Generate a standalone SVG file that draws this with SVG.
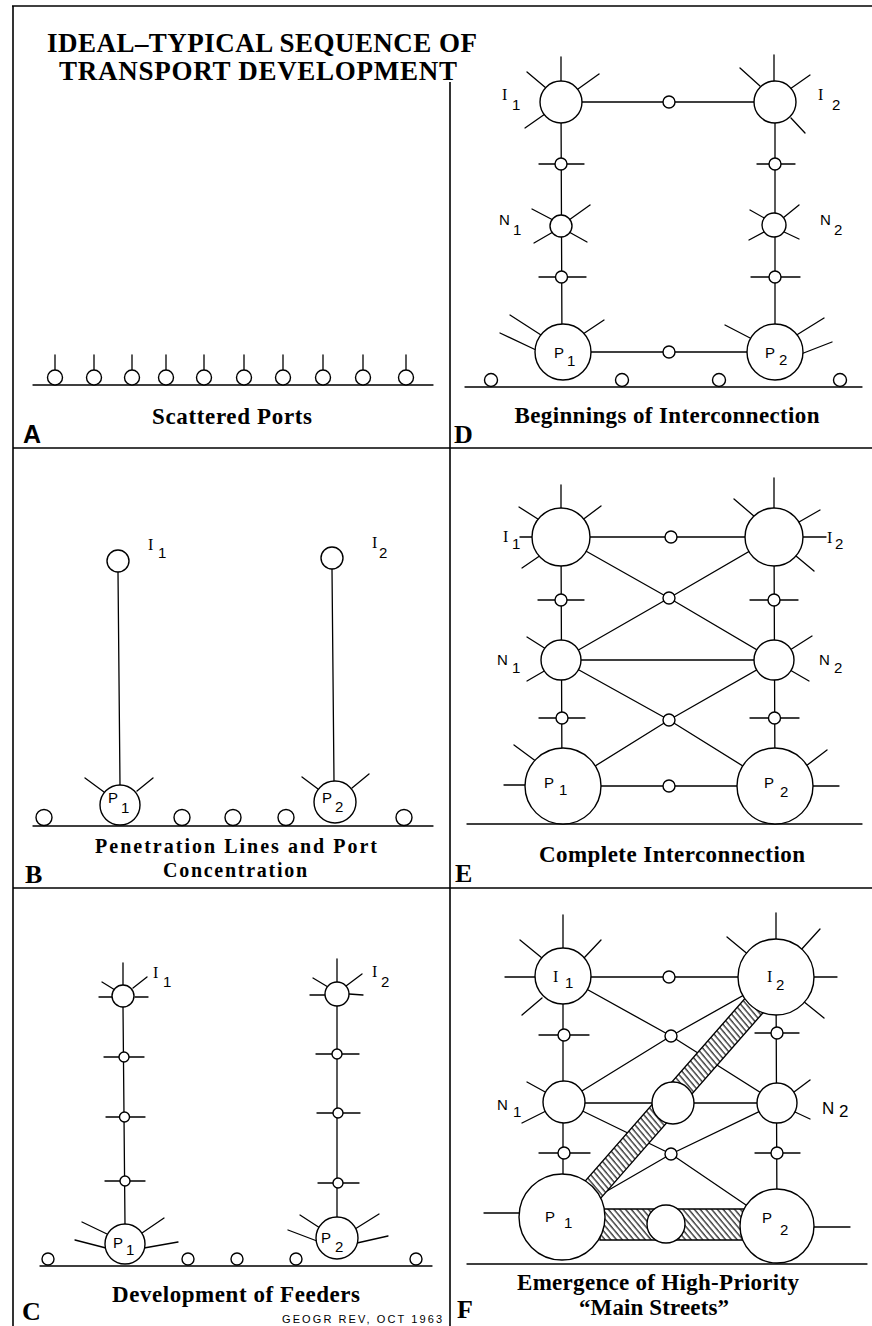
<svg xmlns="http://www.w3.org/2000/svg" width="872" height="1326" viewBox="0 0 872 1326">
<style>
.fr{stroke:#000;stroke-width:1.6;fill:none}
.ln{stroke:#000;stroke-width:1.3;fill:none;stroke-linecap:round}
.nd{fill:#fff;stroke:#000;stroke-width:1.4}
.cap{font-family:"Liberation Serif",serif;font-weight:bold;font-size:23px;text-anchor:middle;fill:#000}
.cap2{font-family:"Liberation Serif",serif;font-weight:bold;font-size:20px;text-anchor:middle;fill:#000}
.ttl{font-family:"Liberation Serif",serif;font-weight:bold;font-size:27px;fill:#000}
.pl{font-family:"Liberation Serif",serif;font-weight:bold;font-size:26px;fill:#000}
.pa{font-family:"Liberation Sans",sans-serif;font-weight:bold;font-size:25px;fill:#000}
.lb{font-family:"Liberation Sans",sans-serif;font-size:15px;fill:#000}
.li{font-family:"Liberation Serif",serif;font-size:16px}
.src{font-family:"Liberation Sans",sans-serif;font-size:11px;fill:#000}
.band{fill:url(#hatch);stroke:#000;stroke-width:1.4}
</style>
<defs>
<pattern id="hatch" patternUnits="userSpaceOnUse" width="4.4" height="10" patternTransform="rotate(-40)">
<rect width="4.4" height="10" fill="#fff"/>
<line x1="1" y1="0" x2="1" y2="10" stroke="#000" stroke-width="1.1"/>
</pattern>
</defs>
<rect width="872" height="1326" fill="#fff"/>

<g id="frame">
<line class="fr" x1="12" y1="6" x2="872" y2="6"/>
<line class="fr" x1="13" y1="6" x2="13" y2="1326"/>
<line class="fr" x1="450" y1="82" x2="450" y2="1326"/>
<line class="fr" x1="13" y1="448" x2="872" y2="448"/>
<line class="fr" x1="13" y1="888" x2="872" y2="888"/>
</g>

<g id="title">
<text class="ttl" x="47" y="52" textLength="430" lengthAdjust="spacing">IDEAL–TYPICAL SEQUENCE OF</text>
<text class="ttl" x="59" y="80" textLength="398" lengthAdjust="spacing">TRANSPORT DEVELOPMENT</text>
</g>

<!-- Panel A -->
<g id="panelA">
<g id="A-connectors"><line class="ln" x1="33" y1="385" x2="433" y2="385"/></g>
<g id="A-port1"><line class="ln" x1="55" y1="355" x2="55" y2="370"/><circle class="nd" cx="55" cy="377.5" r="7.5"/></g>
<g id="A-port2"><line class="ln" x1="94" y1="355" x2="94" y2="370"/><circle class="nd" cx="94" cy="377.5" r="7.5"/></g>
<g id="A-port3"><line class="ln" x1="132" y1="355" x2="132" y2="370"/><circle class="nd" cx="132" cy="377.5" r="7.5"/></g>
<g id="A-port4"><line class="ln" x1="166" y1="355" x2="166" y2="370"/><circle class="nd" cx="166" cy="377.5" r="7.5"/></g>
<g id="A-port5"><line class="ln" x1="204" y1="355" x2="204" y2="370"/><circle class="nd" cx="204" cy="377.5" r="7.5"/></g>
<g id="A-port6"><line class="ln" x1="244" y1="355" x2="244" y2="370"/><circle class="nd" cx="244" cy="377.5" r="7.5"/></g>
<g id="A-port7"><line class="ln" x1="283" y1="355" x2="283" y2="370"/><circle class="nd" cx="283" cy="377.5" r="7.5"/></g>
<g id="A-port8"><line class="ln" x1="323" y1="355" x2="323" y2="370"/><circle class="nd" cx="323" cy="377.5" r="7.5"/></g>
<g id="A-port9"><line class="ln" x1="363" y1="355" x2="363" y2="370"/><circle class="nd" cx="363" cy="377.5" r="7.5"/></g>
<g id="A-port10"><line class="ln" x1="406" y1="355" x2="406" y2="370"/><circle class="nd" cx="406" cy="377.5" r="7.5"/></g>
<text class="cap" x="232" y="424" textLength="160" lengthAdjust="spacing">Scattered Ports</text>
<text class="pa" x="23" y="443">A</text>
</g>

<!-- Panel B -->
<g id="panelB">
<g id="B-connectors">
<line class="ln" x1="33" y1="826" x2="433" y2="826"/>
<line class="ln" x1="118" y1="572" x2="120" y2="785"/>
<line class="ln" x1="332" y1="569" x2="334" y2="781"/>
</g>
<g id="B-port1"><circle class="nd" cx="44" cy="817.5" r="8"/></g>
<g id="B-port2"><circle class="nd" cx="182" cy="817.5" r="8"/></g>
<g id="B-port3"><circle class="nd" cx="233" cy="817.5" r="8"/></g>
<g id="B-port4"><circle class="nd" cx="286" cy="817.5" r="8"/></g>
<g id="B-port5"><circle class="nd" cx="404" cy="817.5" r="8"/></g>
<g id="B-I1"><circle class="nd" cx="118" cy="561" r="11"/>
<text class="lb"><tspan class="li" x="148" y="550">I</tspan><tspan x="158" y="558">1</tspan></text></g>
<g id="B-I2"><circle class="nd" cx="332" cy="558" r="11"/>
<text class="lb"><tspan class="li" x="372" y="548">I</tspan><tspan x="379" y="558">2</tspan></text></g>
<g id="B-P1">
<line class="ln" x1="85" y1="778" x2="104" y2="792"/><line class="ln" x1="137" y1="791" x2="153" y2="778"/>
<circle class="nd" cx="120" cy="805" r="20"/>
<text class="lb"><tspan x="108" y="803">P</tspan><tspan x="121" y="813">1</tspan></text></g>
<g id="B-P2">
<line class="ln" x1="302" y1="777" x2="318" y2="789"/><line class="ln" x1="352" y1="788" x2="369" y2="774"/>
<circle class="nd" cx="335" cy="802" r="21"/>
<text class="lb"><tspan x="322" y="803">P</tspan><tspan x="335" y="812">2</tspan></text></g>
<text class="cap2" x="236" y="853" textLength="282" lengthAdjust="spacing">Penetration Lines and Port</text>
<text class="cap2" x="235" y="877" textLength="144" lengthAdjust="spacing">Concentration</text>
<text class="pl" x="25" y="883">B</text>
</g>

<!-- Panel C -->
<g id="panelC">
<g id="C-connectors">
<line class="ln" x1="40" y1="1266" x2="432" y2="1266"/>
<line class="ln" x1="123" y1="1007" x2="125" y2="1224"/>
<line class="ln" x1="337" y1="1006" x2="337" y2="1217"/>
</g>
<g id="C-port1"><circle class="nd" cx="48" cy="1259" r="6"/></g>
<g id="C-port2"><circle class="nd" cx="188" cy="1259" r="6"/></g>
<g id="C-port3"><circle class="nd" cx="237" cy="1259" r="6"/></g>
<g id="C-port4"><circle class="nd" cx="296" cy="1259" r="6"/></g>
<g id="C-port5"><circle class="nd" cx="416" cy="1259" r="6"/></g>
<g id="C-I1">
<line class="ln" x1="123" y1="985" x2="123" y2="963"/><line class="ln" x1="102" y1="982" x2="115" y2="990"/>
<line class="ln" x1="133" y1="988" x2="147" y2="977"/><line class="ln" x1="99" y1="997" x2="112" y2="997"/>
<line class="ln" x1="135" y1="997" x2="148" y2="997"/>
<circle class="nd" cx="123" cy="996" r="11"/>
<text class="lb"><tspan class="li" x="153" y="978">I</tspan><tspan x="163" y="987">1</tspan></text></g>
<g id="C-I2">
<line class="ln" x1="337" y1="982" x2="337" y2="959"/><line class="ln" x1="313" y1="978" x2="328" y2="987"/>
<line class="ln" x1="346" y1="986" x2="362" y2="974"/><line class="ln" x1="310" y1="995" x2="325" y2="995"/>
<line class="ln" x1="349" y1="994" x2="363" y2="995"/>
<circle class="nd" cx="337" cy="994" r="12"/>
<text class="lb"><tspan class="li" x="372" y="977">I</tspan><tspan x="381" y="987">2</tspan></text></g>
<g id="C-f1"><line class="ln" x1="104" y1="1057" x2="144" y2="1057"/><circle class="nd" cx="124" cy="1057" r="5"/></g>
<g id="C-f2"><line class="ln" x1="106" y1="1117" x2="145" y2="1117"/><circle class="nd" cx="124.5" cy="1117" r="5"/></g>
<g id="C-f3"><line class="ln" x1="105" y1="1181" x2="145" y2="1181"/><circle class="nd" cx="125" cy="1181" r="5"/></g>
<g id="C-f4"><line class="ln" x1="316" y1="1054" x2="359" y2="1054"/><circle class="nd" cx="337" cy="1054" r="5"/></g>
<g id="C-f5"><line class="ln" x1="317" y1="1113" x2="360" y2="1113"/><circle class="nd" cx="338" cy="1113" r="5"/></g>
<g id="C-f6"><line class="ln" x1="318" y1="1183" x2="359" y2="1183"/><circle class="nd" cx="338" cy="1183" r="5"/></g>
<g id="C-P1">
<line class="ln" x1="82" y1="1222" x2="107" y2="1234"/><line class="ln" x1="75" y1="1240" x2="106" y2="1248"/>
<line class="ln" x1="142" y1="1233" x2="164" y2="1218"/><line class="ln" x1="144" y1="1248" x2="178" y2="1242"/>
<circle class="nd" cx="125" cy="1244" r="20"/>
<text class="lb"><tspan x="113" y="1248">P</tspan><tspan x="126" y="1255">1</tspan></text></g>
<g id="C-P2">
<line class="ln" x1="300" y1="1215" x2="320" y2="1228"/><line class="ln" x1="288" y1="1230" x2="317" y2="1241"/>
<line class="ln" x1="355" y1="1229" x2="379" y2="1214"/><line class="ln" x1="357" y1="1243" x2="388" y2="1236"/>
<circle class="nd" cx="337" cy="1238" r="21"/>
<text class="lb"><tspan x="321" y="1243">P</tspan><tspan x="335" y="1252">2</tspan></text></g>
<text class="cap" x="236" y="1302" textLength="248" lengthAdjust="spacing">Development of Feeders</text>
<text class="pl" x="22" y="1320">C</text>
<text class="src" x="282" y="1323" textLength="160" lengthAdjust="spacing">GEOGR REV, OCT 1963</text>
</g>

<!-- Panel D -->
<g id="panelD">
<g id="D-connectors">
<line class="ln" x1="465" y1="387" x2="862" y2="387"/>
<line class="ln" x1="561" y1="102" x2="775" y2="102"/>
<line class="ln" x1="563" y1="352" x2="775" y2="352"/>
<line class="ln" x1="561" y1="102" x2="562" y2="352"/>
<line class="ln" x1="775" y1="102" x2="775" y2="352"/>
</g>
<g id="D-port1"><circle class="nd" cx="491" cy="380" r="6.5"/></g>
<g id="D-port2"><circle class="nd" cx="622" cy="380" r="6.5"/></g>
<g id="D-port3"><circle class="nd" cx="719" cy="380" r="6.5"/></g>
<g id="D-port4"><circle class="nd" cx="840" cy="380" r="6.5"/></g>
<g id="D-t1"><circle class="nd" cx="669" cy="102" r="6"/></g>
<g id="D-t2"><circle class="nd" cx="669" cy="352" r="6"/></g>
<g id="D-I1">
<line class="ln" x1="561" y1="81" x2="561" y2="57"/><line class="ln" x1="527" y1="72" x2="546" y2="88"/>
<line class="ln" x1="578" y1="89" x2="599" y2="74"/><line class="ln" x1="525" y1="128" x2="545" y2="114"/>
<circle class="nd" cx="561" cy="102" r="21"/>
<text class="lb"><tspan class="li" x="502" y="100">I</tspan><tspan x="512" y="110">1</tspan></text></g>
<g id="D-I2">
<line class="ln" x1="774" y1="81" x2="774" y2="55"/><line class="ln" x1="740" y1="68" x2="760" y2="86"/>
<line class="ln" x1="790" y1="89" x2="810" y2="75"/><line class="ln" x1="791" y1="118" x2="805" y2="133"/>
<circle class="nd" cx="775" cy="102" r="21"/>
<text class="lb"><tspan class="li" x="818" y="100">I</tspan><tspan x="832" y="110">2</tspan></text></g>
<g id="D-s1"><line class="ln" x1="539" y1="164" x2="584" y2="164"/><circle class="nd" cx="561" cy="164" r="6"/></g>
<g id="D-s2"><line class="ln" x1="539" y1="277" x2="586" y2="277"/><circle class="nd" cx="561.5" cy="277" r="6"/></g>
<g id="D-s3"><line class="ln" x1="757" y1="164" x2="795" y2="164"/><circle class="nd" cx="775" cy="164" r="6"/></g>
<g id="D-s4"><line class="ln" x1="751" y1="277" x2="800" y2="277"/><circle class="nd" cx="775" cy="277" r="6"/></g>
<g id="D-N1">
<line class="ln" x1="532" y1="209" x2="553" y2="220"/><line class="ln" x1="569" y1="220" x2="590" y2="205"/>
<line class="ln" x1="534" y1="243" x2="553" y2="232"/><line class="ln" x1="569" y1="232" x2="587" y2="242"/>
<circle class="nd" cx="561" cy="226" r="11"/>
<text class="lb"><tspan x="499" y="225">N</tspan><tspan x="513" y="235">1</tspan></text></g>
<g id="D-N2">
<line class="ln" x1="750" y1="210" x2="766" y2="219"/><line class="ln" x1="783" y1="218" x2="799" y2="205"/>
<line class="ln" x1="749" y1="240" x2="766" y2="231"/><line class="ln" x1="782" y1="231" x2="799" y2="239"/>
<circle class="nd" cx="774" cy="225" r="12"/>
<text class="lb"><tspan x="820" y="225">N</tspan><tspan x="834" y="235">2</tspan></text></g>
<g id="D-P1">
<line class="ln" x1="510" y1="315" x2="541" y2="335"/><line class="ln" x1="500" y1="333" x2="536" y2="350"/>
<line class="ln" x1="583" y1="334" x2="604" y2="320"/>
<circle class="nd" cx="563" cy="352" r="28"/>
<text class="lb"><tspan x="554" y="358">P</tspan><tspan x="567" y="366">1</tspan></text></g>
<g id="D-P2">
<line class="ln" x1="725" y1="325" x2="752" y2="339"/><line class="ln" x1="795" y1="336" x2="824" y2="318"/>
<line class="ln" x1="801" y1="354" x2="832" y2="342"/>
<circle class="nd" cx="775" cy="352" r="28"/>
<text class="lb"><tspan x="765" y="358">P</tspan><tspan x="779" y="365">2</tspan></text></g>
<text class="cap" x="667" y="423" textLength="305" lengthAdjust="spacing">Beginnings of Interconnection</text>
<text class="pl" x="454" y="443">D</text>
</g>

<!-- Panel E -->
<g id="panelE">
<g id="E-connectors">
<line class="ln" x1="467" y1="824" x2="862" y2="824"/>
<line class="ln" x1="561" y1="537" x2="774" y2="537"/>
<line class="ln" x1="561" y1="660" x2="774" y2="660"/>
<line class="ln" x1="563" y1="786" x2="775" y2="786"/>
<line class="ln" x1="561" y1="537" x2="562" y2="786"/>
<line class="ln" x1="774" y1="537" x2="775" y2="786"/>
<polyline class="ln" points="561,537 669,598 774,660"/>
<polyline class="ln" points="774,537 669,598 561,660"/>
<polyline class="ln" points="561,660 669,720 775,786"/>
<polyline class="ln" points="774,660 669,720 563,786"/>
</g>
<g id="E-t1"><circle class="nd" cx="671" cy="537" r="6"/></g>
<g id="E-x1"><circle class="nd" cx="669" cy="598" r="6"/></g>
<g id="E-x2"><circle class="nd" cx="669" cy="720" r="6"/></g>
<g id="E-t2"><circle class="nd" cx="669" cy="786" r="6"/></g>
<g id="E-s1"><line class="ln" x1="538" y1="600" x2="584" y2="600"/><circle class="nd" cx="561" cy="600" r="6"/></g>
<g id="E-s2"><line class="ln" x1="539" y1="718" x2="585" y2="718"/><circle class="nd" cx="562" cy="718" r="6"/></g>
<g id="E-s3"><line class="ln" x1="750" y1="600" x2="798" y2="600"/><circle class="nd" cx="774" cy="600" r="6"/></g>
<g id="E-s4"><line class="ln" x1="750" y1="718" x2="799" y2="718"/><circle class="nd" cx="774.5" cy="718" r="6"/></g>
<g id="E-I1">
<line class="ln" x1="561" y1="508" x2="561" y2="485"/><line class="ln" x1="519" y1="507" x2="541" y2="521"/>
<line class="ln" x1="581" y1="521" x2="601" y2="506"/><line class="ln" x1="520" y1="537" x2="533" y2="537"/>
<line class="ln" x1="522" y1="568" x2="541" y2="555"/>
<circle class="nd" cx="561" cy="537" r="29"/>
<text class="lb"><tspan class="li" x="503" y="542">I</tspan><tspan x="512" y="549">1</tspan></text></g>
<g id="E-I2">
<line class="ln" x1="774" y1="508" x2="774" y2="478"/><line class="ln" x1="734" y1="499" x2="755" y2="517"/>
<line class="ln" x1="799" y1="522" x2="820" y2="510"/><line class="ln" x1="803" y1="537" x2="826" y2="537"/>
<line class="ln" x1="796" y1="556" x2="814" y2="571"/>
<circle class="nd" cx="774" cy="537" r="29"/>
<text class="lb"><tspan class="li" x="827" y="543">I</tspan><tspan x="835" y="549">2</tspan></text></g>
<g id="E-N1">
<line class="ln" x1="527" y1="637" x2="546" y2="649"/><line class="ln" x1="527" y1="681" x2="546" y2="670"/>
<circle class="nd" cx="561" cy="660" r="20"/>
<text class="lb"><tspan x="497" y="665">N</tspan><tspan x="512" y="673">1</tspan></text></g>
<g id="E-N2">
<line class="ln" x1="790" y1="650" x2="812" y2="636"/><line class="ln" x1="790" y1="670" x2="809" y2="681"/>
<circle class="nd" cx="774" cy="660" r="20"/>
<text class="lb"><tspan x="819" y="665">N</tspan><tspan x="834" y="673">2</tspan></text></g>
<g id="E-P1">
<line class="ln" x1="514" y1="745" x2="537" y2="762"/><line class="ln" x1="504" y1="785" x2="525" y2="785"/>
<circle class="nd" cx="563" cy="786" r="38"/>
<text class="lb"><tspan x="544" y="788">P</tspan><tspan x="559" y="795">1</tspan></text></g>
<g id="E-P2">
<line class="ln" x1="806" y1="766" x2="827" y2="750"/><line class="ln" x1="813" y1="786" x2="839" y2="786"/>
<circle class="nd" cx="775" cy="786" r="38"/>
<text class="lb"><tspan x="764" y="788">P</tspan><tspan x="780" y="797">2</tspan></text></g>
<text class="cap" x="672" y="862" textLength="266" lengthAdjust="spacing">Complete Interconnection</text>
<text class="pl" x="455" y="882">E</text>
</g>

<!-- Panel F -->
<g id="panelF">
<g id="F-connectors">
<line class="ln" x1="467" y1="1264" x2="867" y2="1264"/>
<line class="ln" x1="563" y1="977" x2="776" y2="977"/>
<line class="ln" x1="564" y1="1103" x2="777" y2="1103"/>
<line class="ln" x1="563" y1="976" x2="563" y2="1217"/>
<line class="ln" x1="776" y1="977" x2="777" y2="1226"/>
<polyline class="ln" points="563,976 671,1036 777,1103"/>
<polyline class="ln" points="776,977 671,1036 564,1102"/>
<polyline class="ln" points="564,1102 671,1154 777,1226"/>
<polyline class="ln" points="777,1103 671,1154 562,1217"/>
<polygon class="band" points="600,1209 745,1209 745,1240 600,1240"/>
<polygon class="band" points="560.4,1209.4 577.6,1224.6 787.6,984.6 770.4,969.4"/>
</g>
<g id="F-t1"><circle class="nd" cx="669" cy="977" r="6"/></g>
<g id="F-x1"><circle class="nd" cx="671" cy="1036" r="6"/></g>
<g id="F-x2"><circle class="nd" cx="671" cy="1154" r="6"/></g>
<g id="F-M1"><circle class="nd" cx="673" cy="1103" r="21"/></g>
<g id="F-M2"><circle class="nd" cx="666" cy="1224" r="19"/></g>
<g id="F-s1"><line class="ln" x1="539" y1="1035" x2="589" y2="1035"/><circle class="nd" cx="564" cy="1035" r="6"/></g>
<g id="F-s2"><line class="ln" x1="539" y1="1153" x2="590" y2="1153"/><circle class="nd" cx="564" cy="1153" r="6"/></g>
<g id="F-s3"><line class="ln" x1="755" y1="1033" x2="799" y2="1033"/><circle class="nd" cx="777" cy="1033" r="6"/></g>
<g id="F-s4"><line class="ln" x1="755" y1="1153" x2="800" y2="1153"/><circle class="nd" cx="777" cy="1153" r="6"/></g>
<g id="F-I1">
<line class="ln" x1="563" y1="948" x2="563" y2="915"/><line class="ln" x1="520" y1="940" x2="542" y2="958"/>
<line class="ln" x1="584" y1="958" x2="601" y2="940"/><line class="ln" x1="505" y1="977" x2="535" y2="977"/>
<line class="ln" x1="522" y1="1015" x2="542" y2="998"/>
<circle class="nd" cx="563" cy="976" r="28"/>
<text class="lb"><tspan class="li" x="553" y="982">I</tspan><tspan x="565" y="988">1</tspan></text></g>
<g id="F-I2">
<line class="ln" x1="776" y1="939" x2="776" y2="913"/><line class="ln" x1="727" y1="937" x2="750" y2="956"/>
<line class="ln" x1="800" y1="951" x2="820" y2="929"/><line class="ln" x1="814" y1="977" x2="837" y2="977"/>
<line class="ln" x1="803" y1="1001" x2="824" y2="1018"/>
<circle class="nd" cx="776" cy="977" r="38"/>
<text class="lb"><tspan class="li" x="767" y="982">I</tspan><tspan x="776" y="990">2</tspan></text></g>
<g id="F-N1">
<line class="ln" x1="527" y1="1082" x2="547" y2="1093"/><line class="ln" x1="522" y1="1123" x2="546" y2="1111"/>
<circle class="nd" cx="564" cy="1102" r="21"/>
<text class="lb"><tspan x="497" y="1110">N</tspan><tspan x="513" y="1117">1</tspan></text></g>
<g id="F-N2">
<line class="ln" x1="794" y1="1092" x2="810" y2="1080"/><line class="ln" x1="795" y1="1112" x2="810" y2="1119"/>
<circle class="nd" cx="777" cy="1103" r="20"/>
<text class="lb" style="font-size:17px"><tspan x="822" y="1114">N</tspan><tspan x="839" y="1117">2</tspan></text></g>
<g id="F-P1">
<line class="ln" x1="484" y1="1213" x2="519" y2="1213"/>
<circle class="nd" cx="562" cy="1217" r="43"/>
<text class="lb"><tspan x="545" y="1222">P</tspan><tspan x="564" y="1228">1</tspan></text></g>
<g id="F-P2">
<line class="ln" x1="814" y1="1227" x2="850" y2="1227"/>
<circle class="nd" cx="777" cy="1226" r="37"/>
<text class="lb"><tspan x="762" y="1223">P</tspan><tspan x="780" y="1235">2</tspan></text></g>
<text class="cap" x="658" y="1290" textLength="282" lengthAdjust="spacing">Emergence of High-Priority</text>
<text class="cap" x="654" y="1315" textLength="150" lengthAdjust="spacing">“Main Streets”</text>
<text class="pl" x="457" y="1318">F</text>
</g>
</svg>
